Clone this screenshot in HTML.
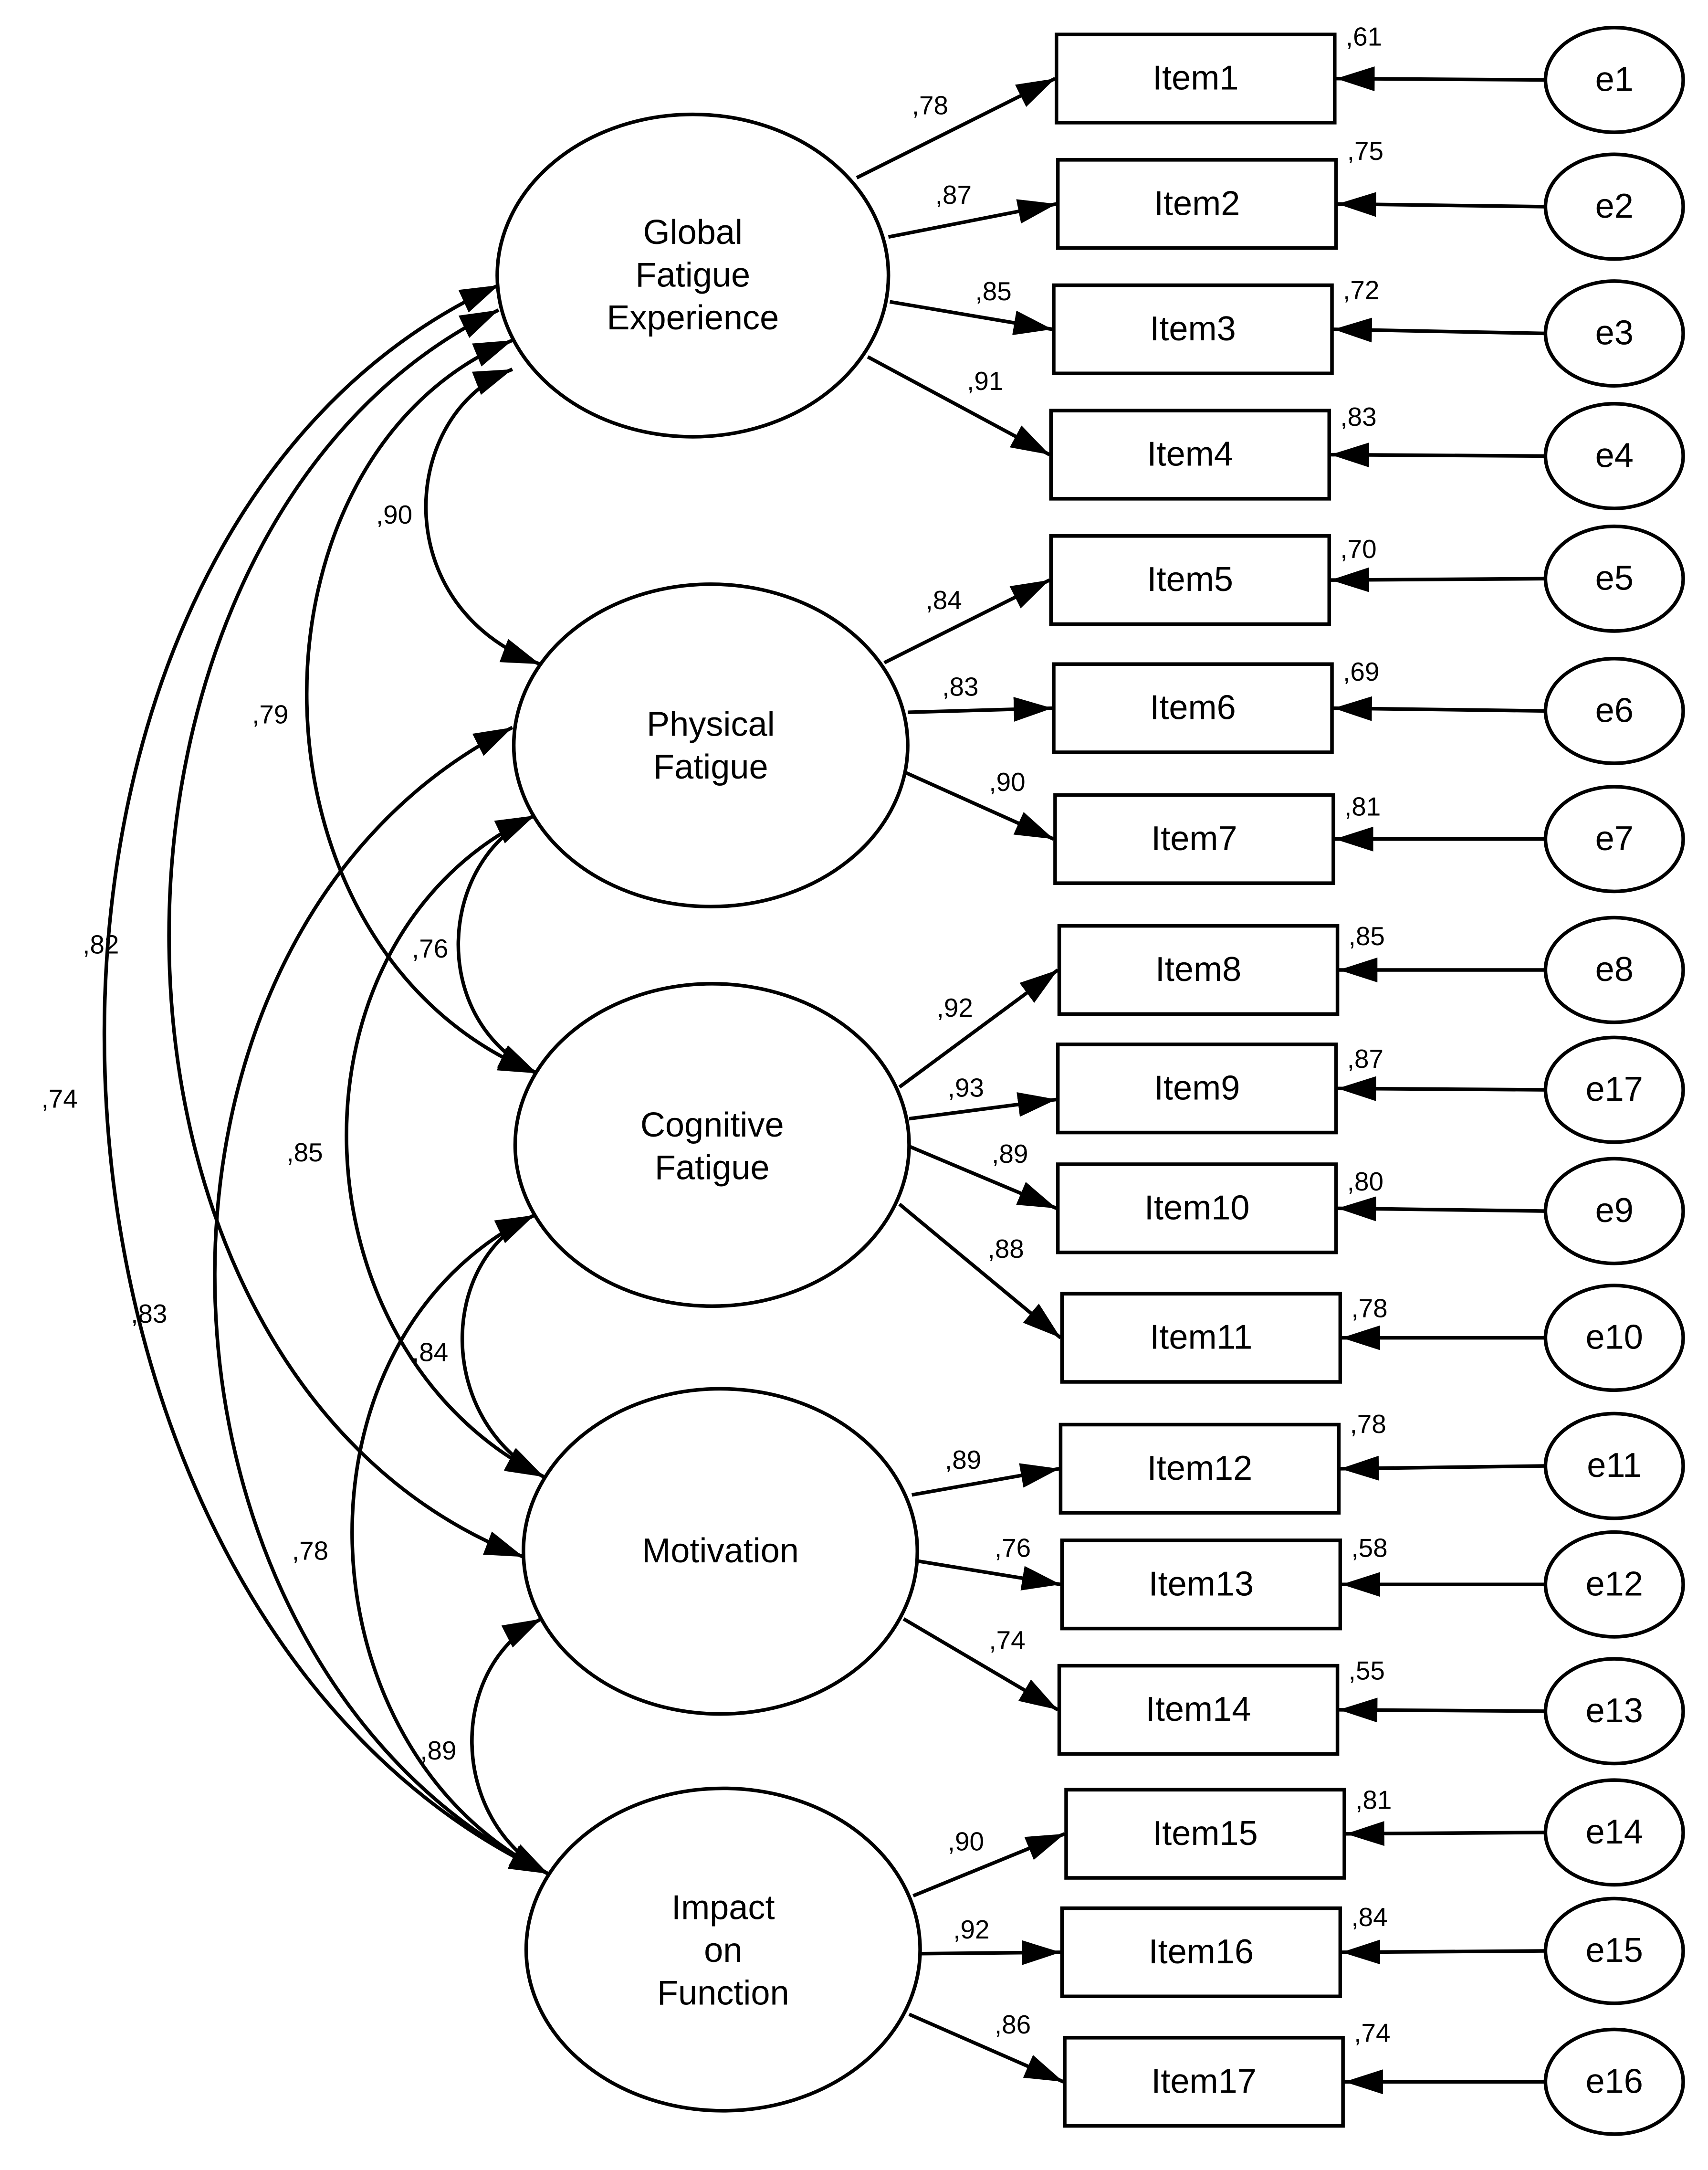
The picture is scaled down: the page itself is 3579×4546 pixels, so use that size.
<!DOCTYPE html>
<html><head><meta charset="utf-8"><style>
html,body{margin:0;padding:0;background:#fff}
svg{display:block}
text{font-family:"Liberation Sans",Arial,sans-serif;fill:#000}
</style></head><body>
<svg width="3579" height="4546" viewBox="0 0 1240 1575" xmlns="http://www.w3.org/2000/svg">
<defs>
<marker id="a" markerUnits="userSpaceOnUse" markerWidth="30" markerHeight="20" refX="28" refY="9" orient="auto-start-reverse"><path d="M0,0 L28,9 L0,18 z" fill="#000"/></marker>
</defs>
<rect width="1240" height="1575" fill="#fff"/>
<g fill="none" stroke="#000" stroke-width="2.6">
<ellipse cx="503" cy="200" rx="142" ry="117"/>
<ellipse cx="516" cy="541" rx="143" ry="117"/>
<ellipse cx="517" cy="831" rx="143" ry="117"/>
<ellipse cx="523" cy="1126" rx="143" ry="118"/>
<ellipse cx="525" cy="1415" rx="143" ry="117"/>
</g>
<g font-size="25" text-anchor="middle">
<text x="503" y="177">Global</text><text x="503" y="208">Fatigue</text><text x="503" y="239">Experience</text>
<text x="516" y="534">Physical</text><text x="516" y="565">Fatigue</text>
<text x="517" y="825">Cognitive</text><text x="517" y="856">Fatigue</text>
<text x="523" y="1134">Motivation</text>
<text x="525" y="1393">Impact</text><text x="525" y="1424">on</text><text x="525" y="1455">Function</text>
</g>
<g fill="#fff" stroke="#000" stroke-width="2.6">
<rect x="767" y="25" width="202" height="64"/>
<rect x="768" y="116" width="202" height="64"/>
<rect x="765" y="207" width="202" height="64"/>
<rect x="763" y="298" width="202" height="64"/>
<rect x="763" y="389" width="202" height="64"/>
<rect x="765" y="482" width="202" height="64"/>
<rect x="766" y="577" width="202" height="64"/>
<rect x="769" y="672" width="202" height="64"/>
<rect x="768" y="758" width="202" height="64"/>
<rect x="768" y="845" width="202" height="64"/>
<rect x="771" y="939" width="202" height="64"/>
<rect x="770" y="1034" width="202" height="64"/>
<rect x="771" y="1118" width="202" height="64"/>
<rect x="769" y="1209" width="202" height="64"/>
<rect x="774" y="1299" width="202" height="64"/>
<rect x="771" y="1385" width="202" height="64"/>
<rect x="773" y="1479" width="202" height="64"/>
</g>
<g font-size="25" text-anchor="middle">
<text x="868" y="65">Item1</text><text x="869" y="156">Item2</text><text x="866" y="247">Item3</text><text x="864" y="338">Item4</text>
<text x="864" y="429">Item5</text><text x="866" y="522">Item6</text><text x="867" y="617">Item7</text><text x="870" y="712">Item8</text>
<text x="869" y="798">Item9</text><text x="869" y="885">Item10</text><text x="872" y="979">Item11</text><text x="871" y="1074">Item12</text>
<text x="872" y="1158">Item13</text><text x="870" y="1249">Item14</text><text x="875" y="1339">Item15</text><text x="872" y="1425">Item16</text>
<text x="874" y="1519">Item17</text>
</g>
<g fill="none" stroke="#000" stroke-width="2.6">
<ellipse cx="1172" cy="58" rx="50" ry="38"/><ellipse cx="1172" cy="150" rx="50" ry="38"/><ellipse cx="1172" cy="242" rx="50" ry="38"/>
<ellipse cx="1172" cy="331" rx="50" ry="38"/><ellipse cx="1172" cy="420" rx="50" ry="38"/><ellipse cx="1172" cy="516" rx="50" ry="38"/>
<ellipse cx="1172" cy="609" rx="50" ry="38"/><ellipse cx="1172" cy="704" rx="50" ry="38"/><ellipse cx="1172" cy="791" rx="50" ry="38"/>
<ellipse cx="1172" cy="879" rx="50" ry="38"/><ellipse cx="1172" cy="971" rx="50" ry="38"/><ellipse cx="1172" cy="1064" rx="50" ry="38"/>
<ellipse cx="1172" cy="1150" rx="50" ry="38"/><ellipse cx="1172" cy="1242" rx="50" ry="38"/><ellipse cx="1172" cy="1330" rx="50" ry="38"/>
<ellipse cx="1172" cy="1416" rx="50" ry="38"/><ellipse cx="1172" cy="1511" rx="50" ry="38"/>
</g>
<g font-size="25" text-anchor="middle">
<text x="1172" y="66">e1</text><text x="1172" y="158">e2</text><text x="1172" y="250">e3</text><text x="1172" y="339">e4</text>
<text x="1172" y="428">e5</text><text x="1172" y="524">e6</text><text x="1172" y="617">e7</text><text x="1172" y="712">e8</text>
<text x="1172" y="799">e17</text><text x="1172" y="887">e9</text><text x="1172" y="979">e10</text><text x="1172" y="1072">e11</text>
<text x="1172" y="1158">e12</text><text x="1172" y="1250">e13</text><text x="1172" y="1338">e14</text><text x="1172" y="1424">e15</text>
<text x="1172" y="1519">e16</text>
</g>
<g stroke="#000" stroke-width="2.6" marker-end="url(#a)">
<line x1="1122" y1="58" x2="970" y2="57"/><line x1="1122" y1="150" x2="971" y2="148"/><line x1="1122" y1="242" x2="968" y2="239"/>
<line x1="1122" y1="331" x2="966" y2="330"/><line x1="1122" y1="420" x2="966" y2="421"/><line x1="1122" y1="516" x2="968" y2="514"/>
<line x1="1122" y1="609" x2="969" y2="609"/><line x1="1122" y1="704" x2="972" y2="704"/><line x1="1122" y1="791" x2="971" y2="790"/>
<line x1="1122" y1="879" x2="971" y2="877"/><line x1="1122" y1="971" x2="974" y2="971"/><line x1="1122" y1="1064" x2="973" y2="1066"/>
<line x1="1122" y1="1150" x2="974" y2="1150"/><line x1="1122" y1="1242" x2="972" y2="1241"/><line x1="1122" y1="1330" x2="977" y2="1331"/>
<line x1="1122" y1="1416" x2="974" y2="1417"/><line x1="1122" y1="1511" x2="976" y2="1511"/>
</g>
<g font-size="19">
<text x="977" y="33">,61</text><text x="978" y="116">,75</text><text x="975" y="217">,72</text><text x="973" y="309">,83</text>
<text x="973" y="405">,70</text><text x="975" y="494">,69</text><text x="976" y="592">,81</text><text x="979" y="686">,85</text>
<text x="978" y="775">,87</text><text x="978" y="864">,80</text><text x="981" y="956">,78</text><text x="980" y="1040">,78</text>
<text x="981" y="1130">,58</text><text x="979" y="1219">,55</text><text x="984" y="1313">,81</text><text x="981" y="1398">,84</text>
<text x="983" y="1482">,74</text>
</g>
<g stroke="#000" stroke-width="2.6" marker-end="url(#a)">
<line x1="622" y1="129" x2="766" y2="57"/>
<line x1="645" y1="172" x2="767" y2="148"/>
<line x1="646" y1="219" x2="764" y2="239"/>
<line x1="630" y1="259" x2="762" y2="330"/>
<line x1="642" y1="481" x2="762" y2="421"/>
<line x1="659" y1="517" x2="764" y2="514"/>
<line x1="658" y1="561" x2="765" y2="609"/>
<line x1="653" y1="789" x2="768" y2="704"/>
<line x1="660" y1="812" x2="767" y2="798"/>
<line x1="660" y1="832" x2="767" y2="877"/>
<line x1="653" y1="874" x2="770" y2="971"/>
<line x1="662" y1="1085" x2="769" y2="1066"/>
<line x1="666" y1="1133" x2="770" y2="1150"/>
<line x1="656" y1="1175" x2="768" y2="1241"/>
<line x1="663" y1="1376" x2="773" y2="1331"/>
<line x1="668" y1="1418" x2="770" y2="1417"/>
<line x1="660" y1="1462" x2="772" y2="1511"/>
</g>
<g font-size="19">
<text x="662" y="83">,78</text><text x="679" y="148">,87</text><text x="708" y="218">,85</text><text x="702" y="283">,91</text>
<text x="672" y="442">,84</text><text x="684" y="505">,83</text><text x="718" y="574">,90</text><text x="680" y="738">,92</text>
<text x="688" y="796">,93</text><text x="720" y="844">,89</text><text x="717" y="913">,88</text><text x="686" y="1066">,89</text>
<text x="722" y="1130">,76</text><text x="718" y="1197">,74</text><text x="688" y="1343">,90</text><text x="692" y="1407">,92</text>
<text x="722" y="1476">,86</text>
</g>
<g fill="none" stroke="#000" stroke-width="2.6" marker-start="url(#a)" marker-end="url(#a)">
<path d="M372,268 C290,300 280,440 392,482"/>
<path d="M388,592 C318,625 310,740 390,779"/>
<path d="M388,882 C318,915 316,1030 395,1072"/>
<path d="M393,1175 C325,1210 325,1320 398,1360"/>
<path d="M372,247 C170,330 170,690 390,779"/>
<path d="M388,592 C200,680 210,980 395,1072"/>
<path d="M388,882 C205,970 215,1270 398,1360"/>
<path d="M362,225 C40,380 40,1000 380,1130"/>
<path d="M372,528 C70,680 90,1210 398,1360"/>
<path d="M362,207 C-40,390 -10,1170 398,1360"/>
</g>
<g font-size="19">
<text x="273" y="380">,90</text><text x="299" y="695">,76</text><text x="299" y="988">,84</text><text x="305" y="1277">,89</text>
<text x="183" y="525">,79</text><text x="208" y="843">,85</text><text x="212" y="1132">,78</text><text x="60" y="692">,82</text>
<text x="95" y="960">,83</text><text x="30" y="804">,74</text>
</g>
</svg>
</body></html>
